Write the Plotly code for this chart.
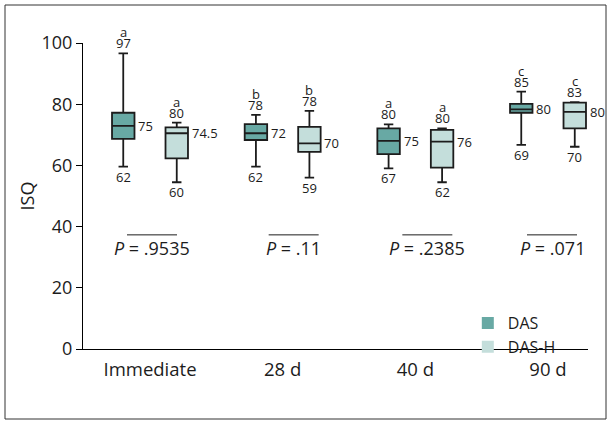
import plotly.graph_objects as go

# ---------------- data ----------------
categories = ["Immediate", "28 d", "40 d", "90 d"]

das_lower = [59.6, 59.6, 59.0, 66.7]
das_q1 = [68.7, 68.3, 63.7, 77.2]
das_median = [72.9, 70.5, 68.0, 78.3]
das_q3 = [77.2, 73.5, 72.1, 80.1]
das_upper = [96.6, 76.5, 73.4, 84.1]

dash_lower = [54.5, 56.0, 54.5, 66.1]
dash_q1 = [62.3, 64.4, 59.3, 72.1]
dash_median = [70.5, 67.2, 67.8, 77.5]
dash_q3 = [72.4, 72.6, 71.6, 80.5]
dash_upper = [74.0, 77.8, 72.1, 80.7]

das_top_labels = ["97", "78", "80", "85"]
das_bottom_labels = ["62", "62", "67", "69"]
das_median_labels = ["75", "72", "75", "80"]
dash_top_labels = ["80", "78", "80", "83"]
dash_bottom_labels = ["60", "59", "62", "70"]
dash_median_labels = ["74.5", "70", "76", "80"]
letters = ["a", "b", "a", "c"]

p_labels = [".9535", ".11", ".2385", ".071"]
p_level = 33.0
bar_level = 37.3

# ---------------- layout constants ----------------
W, H = 611, 424
ML, MR, MT, MB = 83, 23, 43, 75
CAT_PX = 132.67          # pixel distance between category centres
FIRST_CAT_PX = 150       # pixel position of the first category
XR = [(ML - FIRST_CAT_PX) / CAT_PX, (W - MR - FIRST_CAT_PX) / CAT_PX]
plot_w = W - ML - MR
px_per_cat = plot_w / (XR[1] - XR[0])
box_off = 0.2016  # half distance between paired boxes, in category units
off_px = box_off * px_per_cat
p_shift = [2, 11, 12, 4]

FONT = "Open Sans"
DAS_COL = "#68a9a4"
DASH_COL = "#c4dedb"
LINE_COL = "#1c1c1c"

fig = go.Figure()

for name, col, lo, q1, me, q3, up in [
    ("DAS", DAS_COL, das_lower, das_q1, das_median, das_q3, das_upper),
    ("DAS-H", DASH_COL, dash_lower, dash_q1, dash_median, dash_q3, dash_upper),
]:
    fig.add_trace(go.Box(
        name=name, x=categories, q1=q1, median=me, q3=q3,
        lowerfence=lo, upperfence=up, boxpoints=False,
        fillcolor=col, line=dict(color=LINE_COL, width=1.8),
        whiskerwidth=0.42, showlegend=False, hoverinfo="skip",
    ))

# legend entries as plain squares
for name, col in [("DAS", DAS_COL), ("DAS-H", DASH_COL)]:
    fig.add_trace(go.Scatter(
        x=[None], y=[None], mode="markers", name=name,
        marker=dict(symbol="square", size=12, color=col),
    ))

ann = []
def label(x, y, text, xshift, yshift, xanchor="center", yanchor="middle", size=13):
    ann.append(dict(x=x, y=y, xref="x", yref="y", text=text, showarrow=False,
                    xshift=xshift, yshift=yshift, xanchor=xanchor, yanchor=yanchor,
                    font=dict(family=FONT, size=size, color=LINE_COL)))

for i, c in enumerate(categories):
    for sgn, up, lo, me, tl, bl, ml in [
        (-1, das_upper, das_lower, das_median, das_top_labels, das_bottom_labels, das_median_labels),
        (1, dash_upper, dash_lower, dash_median, dash_top_labels, dash_bottom_labels, dash_median_labels),
    ]:
        xs = sgn * off_px
        label(c, up[i], tl[i], xs, -1, yanchor="bottom")
        label(c, up[i], letters[i], xs, 10, yanchor="bottom")
        label(c, lo[i], bl[i], xs, 1, yanchor="top")
        label(c, me[i], ml[i], xs + 13, 0, xanchor="left")
    label(c, p_level, "<i>P</i> = " + p_labels[i], p_shift[i], 0, size=18)

shapes = []
for i, c in enumerate(categories):
    half = 25 / px_per_cat
    sh = p_shift[i] / px_per_cat
    shapes.append(dict(type="line", xref="x", yref="y",
                       x0=i - half + sh, x1=i + half + sh, y0=bar_level, y1=bar_level,
                       line=dict(color=LINE_COL, width=1)))

# outer frame
pw, ph = plot_w, H - MT - MB
shapes.append(dict(type="rect", xref="paper", yref="paper",
                   x0=(5 - ML) / pw, x1=(606 - ML) / pw,
                   y0=((H - MB) - 419) / ph, y1=((H - MB) - 5) / ph,
                   line=dict(color="#333333", width=1), fillcolor="rgba(0,0,0,0)", layer="below"))

fig.update_layout(
    width=W, height=H,
    margin=dict(l=ML, r=MR, t=MT, b=MB, pad=0),
    paper_bgcolor="white", plot_bgcolor="white",
    boxmode="group", boxgap=1 - 4 * box_off * CAT_PX / px_per_cat, boxgroupgap=0.58,
    font=dict(family=FONT, size=17, color=LINE_COL),
    annotations=ann, shapes=shapes,
    legend=dict(x=0.762, y=0.14, xanchor="left", yanchor="top",
                bgcolor="rgba(0,0,0,0)", font=dict(family=FONT, size=16),
                tracegroupgap=0, itemsizing="constant"),
    xaxis=dict(type="category", range=XR, showline=True, linecolor="black", linewidth=1,
               ticks="", showgrid=False, zeroline=False, ticklabelstandoff=4,
               tickfont=dict(family=FONT, size=18.5)),
    yaxis=dict(range=[0, 100], tickvals=[0, 20, 40, 60, 80, 100], showline=True,
               linecolor="black", linewidth=1, ticks="outside", ticklen=6,
               tickcolor="black", showgrid=False, zeroline=False,
               title=dict(text="ISQ", standoff=2, font=dict(family=FONT, size=18)),
               tickfont=dict(family=FONT, size=18)),
)

fig.write_html("out.html", config={"displayModeBar": False},
               post_script="document.body.style.margin='0px';")
